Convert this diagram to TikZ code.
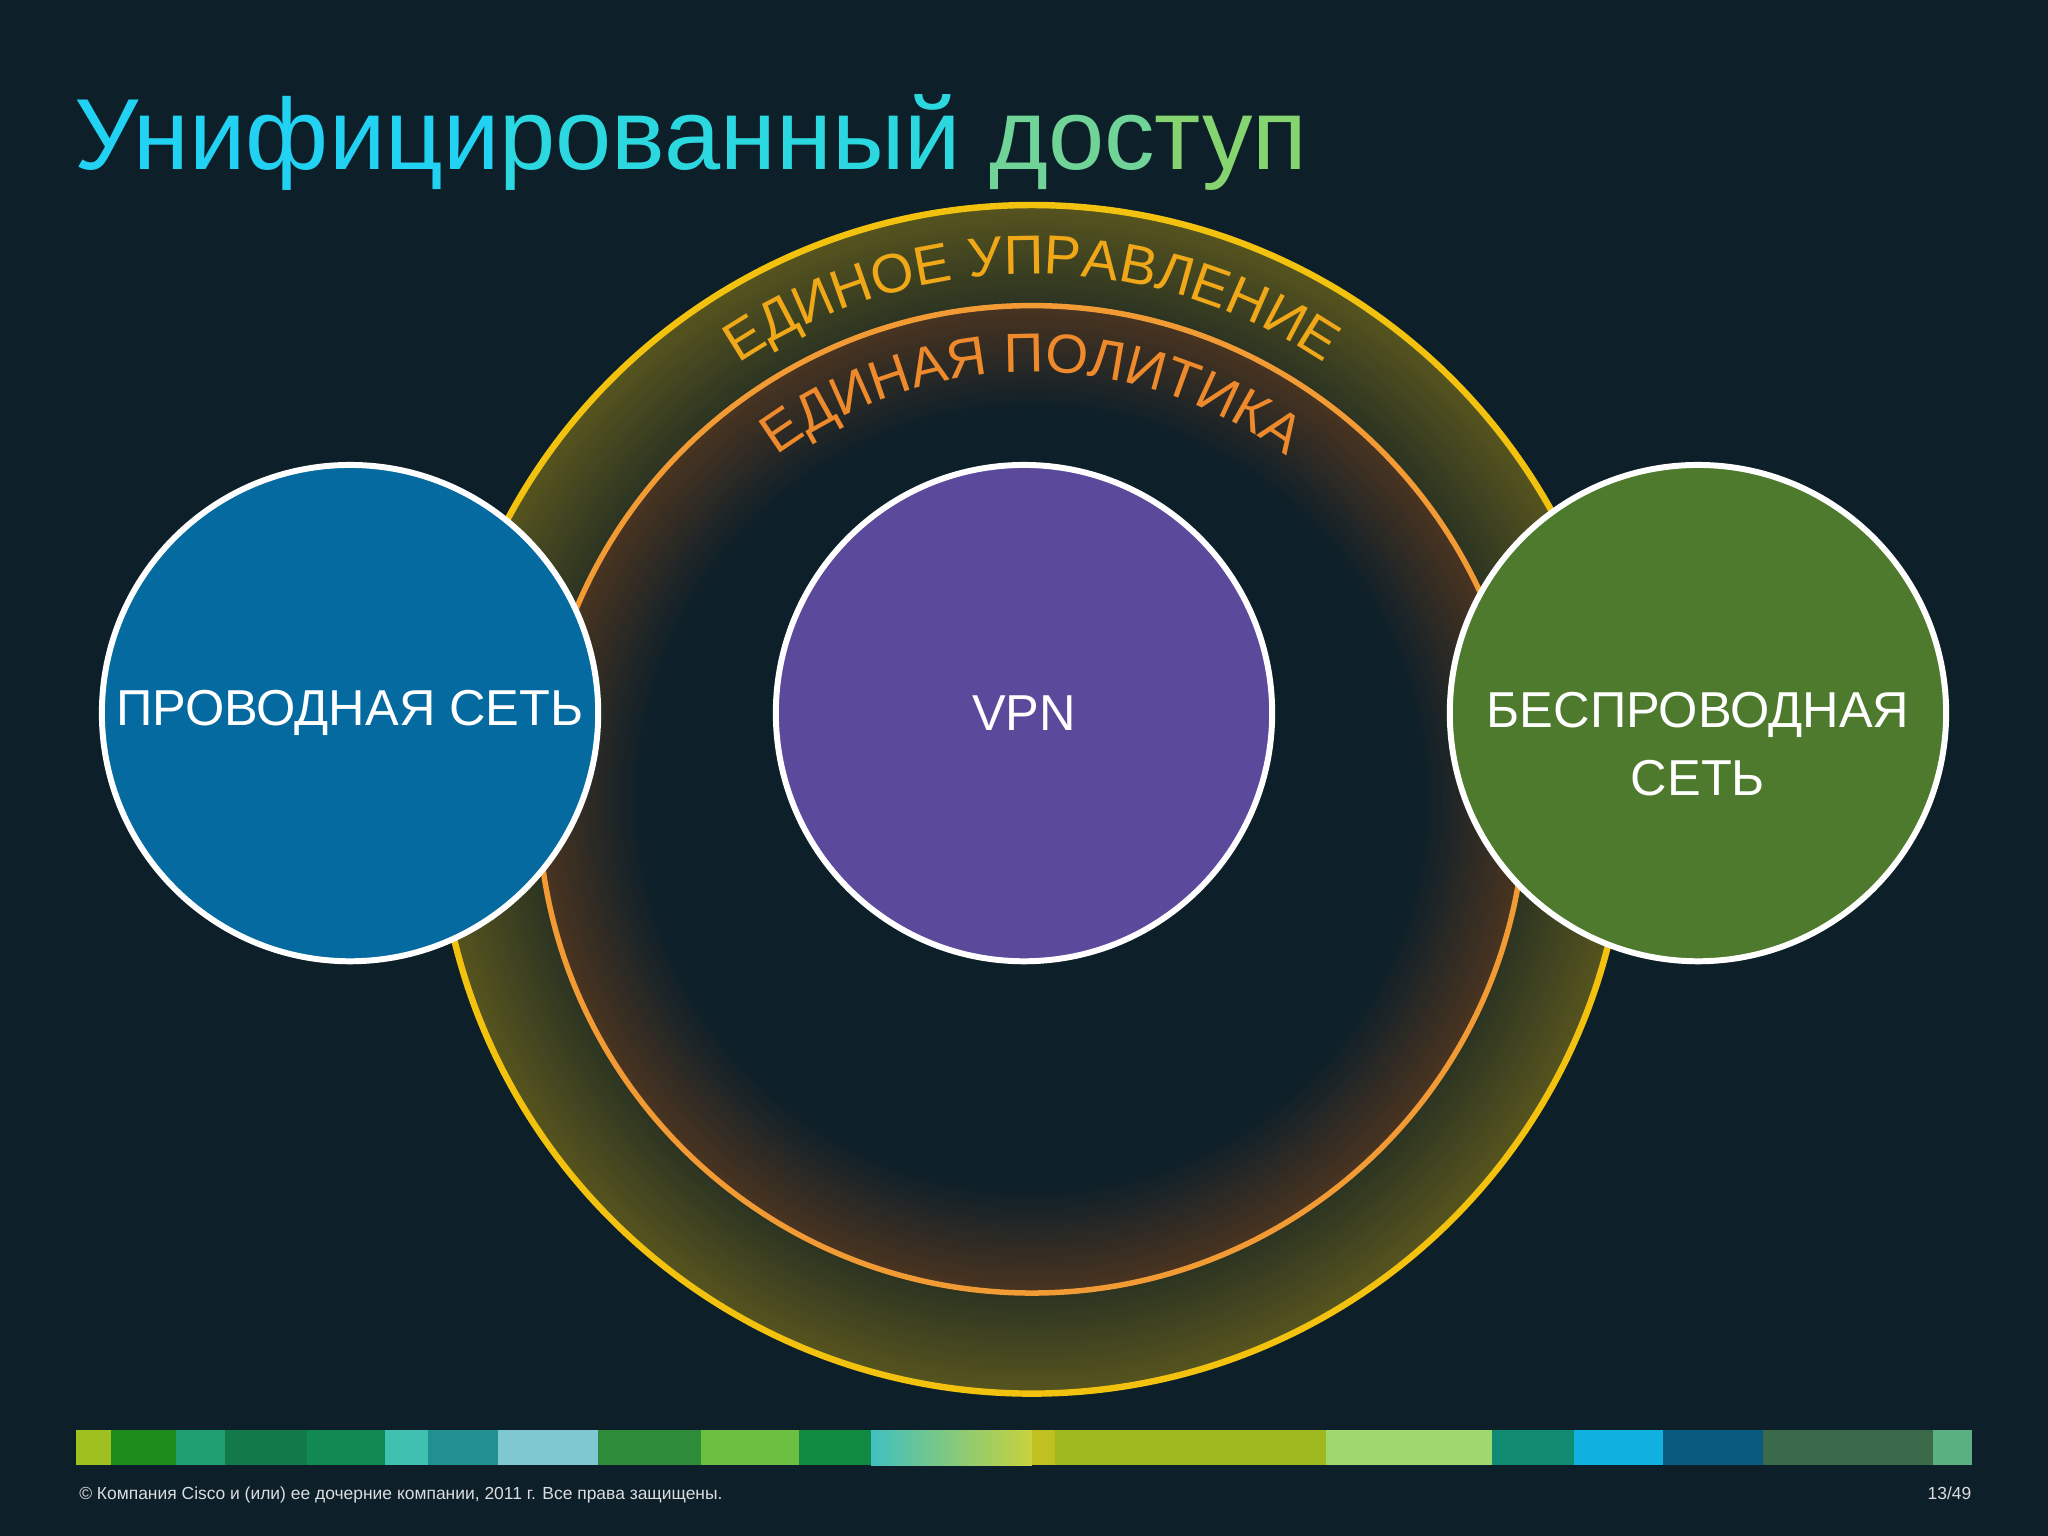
\documentclass[tikz,border=0pt]{standalone}
\usepackage{fontspec}
\setmainfont{Liberation Sans}
\usetikzlibrary{decorations.text}
\definecolor{bgc}{HTML}{0D1F29}
\definecolor{olivec}{HTML}{56541E}
\definecolor{olived}{HTML}{2C3422}
\definecolor{brownc}{HTML}{4A3420}
\definecolor{yel}{HTML}{F2C20E}
\definecolor{ora}{HTML}{F29A34}
\definecolor{txy}{HTML}{F0A818}
\definecolor{txo}{HTML}{EE8A2C}
\definecolor{cblue}{HTML}{046A9F}
\definecolor{cpurp}{HTML}{5B4A9C}
\definecolor{cgreen}{HTML}{4E7A2E}
\tikzset{
  bubble/.style={circle, draw=white, line width=1.3pt, minimum size=3.8cm, inner sep=0pt},
  blabel/.style={text=white, align=center, inner sep=0pt, font=\fontsize{11}{15}\selectfont},
}
\begin{document}
\begin{tikzpicture}
\fill[bgc] (0,0) rectangle (15.68,11.76);
\useasboundingbox (0,0) rectangle (15.68,11.76);
% title
\node[anchor=base west, inner sep=0pt, font=\fontsize{22}{26}\selectfont] (title) at (0.56,10.46)
 {\textcolor[HTML]{22D2F2}{Унифици}\textcolor[HTML]{2CD8E0}{рованный} \textcolor[HTML]{70D498}{дос}\textcolor[HTML]{86D470}{туп}};
% glow rings
\coordinate (c) at (7.90,5.64);
\foreach \i in {0,...,38}{
  \pgfmathsetmacro{\r}{4.55-\i*0.02}
  \pgfmathsetmacro{\p}{100-\i*100/38}
  \fill[olivec!\p!olived] (c) circle (\r);
}
\foreach \i in {0,...,40}{
  \pgfmathsetmacro{\r}{3.78-\i*0.02}
  \pgfmathsetmacro{\p}{100-\i*2.5}
  \fill[brownc!\p!bgc] (c) circle (\r);
}
\draw[yel, line width=1.4pt] (c) circle (4.55);
\draw[ora, line width=1.2pt] (c) circle (3.78);
\path[decorate, decoration={text along path, text align=center, text color=txy,
  text={|\fontsize{12}{14}\selectfont|ЕДИНОЕ УПРАВЛЕНИЕ}}]
  (c) ++(150:4.02) arc[start angle=150, end angle=30, radius=4.02];
\path[decorate, decoration={text along path, text align=center, text color=txo,
  text={|\fontsize{12}{14}\selectfont|ЕДИНАЯ ПОЛИТИКА}}]
  (c) ++(150:3.27) arc[start angle=150, end angle=30, radius=3.27];
% circles
\node[bubble, fill=cblue] (wired) at (2.68,6.30) {};
\node[bubble, fill=cpurp] (vpn) at (7.84,6.30) {};
\node[bubble, fill=cgreen] (wifi) at (13.00,6.30) {};
\node[blabel] (wiredt) at (wired) {ПРОВОДНАЯ СЕТЬ};
\node[blabel] (vpnt) at (vpn) {VPN};
\node[blabel, anchor=north] (wifit) at ([yshift=0.17cm]wifi.center) {БЕСПРОВОДНАЯ\\СЕТЬ};
% colour bar
\foreach \a/\b/\col in {0.58/0.85/A0C020, 0.85/1.35/1C8C1C, 1.35/1.72/20A070, 1.72/2.35/127A4A, 2.35/2.95/108A50, 2.95/3.28/40C0B0, 3.28/3.81/209090, 3.81/4.58/80C8D0, 4.58/5.37/2E8B3A, 5.37/6.12/6CBF40, 6.12/6.67/108A40, 7.90/8.08/C0C020, 8.08/10.15/A0B820, 10.15/11.42/A0D870, 11.42/12.05/108A70, 12.05/12.73/10B0E0, 12.73/13.50/0A5A80, 13.50/14.80/3A6A4A, 14.80/15.10/5AB080}
  {\definecolor{tmpc}{HTML}{\col}\fill[tmpc] (\a,0.54) rectangle (\b,0.81);}
\shade[left color={rgb,255:red,64;green,192;blue,192}, right color={rgb,255:red,200;green,210;blue,60}] (6.67,0.54) rectangle (7.90,0.81);
% footer
\node[anchor=base west, inner sep=0pt, text=white!85!bgc, font=\fontsize{3.8}{5}\selectfont] (foot) at (0.60,0.28) {© Компания Cisco и (или) ее дочерние компании, 2011 г. Все права защищены.};
\node[anchor=base east, inner sep=0pt, text=white!85!bgc, font=\fontsize{3.8}{5}\selectfont] (page) at (15.10,0.28) {13/49};
\end{tikzpicture}
\end{document}
